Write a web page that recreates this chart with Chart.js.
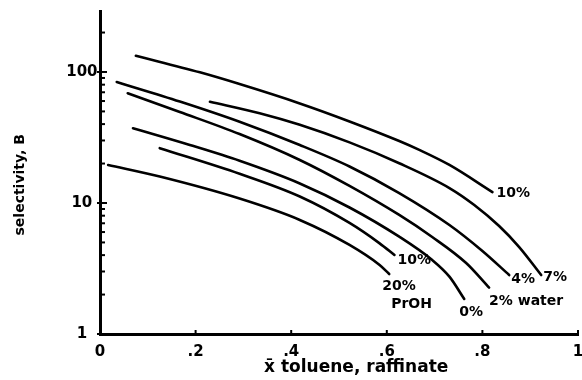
<!DOCTYPE html>
<html>
<head>
<meta charset="utf-8">
<script src="https://cdn.jsdelivr.net/npm/chart.js@4.4.1/dist/chart.umd.min.js"></script>
<style>
html,body{margin:0;padding:0;background:#fff;}
#wrap{width:582px;height:380px;}
</style>
</head>
<body>
<div id="wrap"><canvas id="c" width="582" height="380"></canvas></div>
<script>
// ---- data ----
const seriesNames = ['10% water', '7% water', '4% water', '2% water', '0%', '10% PrOH', '20% PrOH'];
const curveLabels = [['10%'], ['7%'], ['4%'], ['2% water'], ['0%'], ['10%'], ['20%', 'PrOH']];

const water10X = [0.075, 0.209, 0.292, 0.418, 0.522, 0.626, 0.668, 0.731, 0.821];
const water10Y = [133, 99.3, 80.8, 57.5, 41.9, 29.7, 25.4, 19.5, 12.1];

const water7X = [0.230, 0.334, 0.418, 0.522, 0.626, 0.731, 0.783, 0.835, 0.877, 0.923];
const water7Y = [59.3, 48.4, 39.5, 29.0, 20.1, 13.0, 9.65, 6.67, 4.61, 2.82];

const water4X = [0.035, 0.167, 0.292, 0.418, 0.522, 0.626, 0.731, 0.800, 0.856];
const water4Y = [83.9, 59.5, 41.7, 27.7, 19.0, 11.9, 6.79, 4.30, 2.82];

const water2X = [0.058, 0.167, 0.292, 0.418, 0.522, 0.626, 0.695, 0.766, 0.814];
const water2Y = [68.8, 49.5, 33.6, 21.3, 13.5, 8.10, 5.50, 3.48, 2.26];

const zeroX = [0.069, 0.188, 0.292, 0.418, 0.522, 0.626, 0.695, 0.731, 0.762];
const zeroY = [37.2, 27.7, 21.0, 14.1, 9.24, 5.53, 3.67, 2.74, 1.85];

const proh10X = [0.125, 0.292, 0.418, 0.522, 0.585, 0.616];
const proh10Y = [26.2, 16.7, 11.2, 7.04, 4.92, 4.01];

const proh20X = [0.017, 0.125, 0.292, 0.418, 0.522, 0.585, 0.605];
const proh20Y = [19.5, 15.9, 10.8, 7.42, 4.78, 3.36, 2.87];

const xTickValues = [0, 0.2, 0.4, 0.6, 0.8, 1];
const xTickLabels = ['0', '.2', '.4', '.6', '.8', '1'];
const yTickValues = [1, 10, 100];
const yTickLabels = ['1', '10', '100'];
const yMinorTicks = [2, 3, 4, 5, 6, 7, 8, 9, 20, 30, 40, 50, 60, 70, 80, 90, 200];
const xAxisTitle = 'x\u0304 toluene, raffinate';
const yAxisTitle = 'selectivity, B';

const seriesX = [water10X, water7X, water4X, water2X, zeroX, proh10X, proh20X];
const seriesY = [water10Y, water7Y, water4Y, water2Y, zeroY, proh10Y, proh20Y];

// ---- presentation ----
const labelOffsets = [[[4, 1]], [[2, 2]], [[2, 4]], [[0, 14]], [[-5, 13]], [[3, 5]], [[-7, 12], [2, 30]]];
const FONT = '"DejaVu Sans", "Liberation Sans", Arial, sans-serif';

const datasets = seriesNames.map((name, i) => ({
  label: name,
  data: seriesX[i].map((x, k) => ({x: x, y: seriesY[i][k]})),
  borderColor: '#000',
  backgroundColor: '#000',
  borderWidth: 2.6,
  pointRadius: 0,
  fill: false,
  cubicInterpolationMode: 'monotone',
  borderCapStyle: 'round'
}));

const overlay = {
  id: 'overlay',
  afterDraw(chart) {
    const ctx = chart.ctx;
    const xs = chart.scales.x, ys = chart.scales.y;
    const area = chart.chartArea;
    ctx.save();
    ctx.strokeStyle = '#000';
    ctx.fillStyle = '#000';
    // y tick marks (inward)
    ctx.lineWidth = 2;
    yMinorTicks.forEach(v => {
      const py = ys.getPixelForValue(v);
      ctx.beginPath(); ctx.moveTo(area.left, py); ctx.lineTo(area.left + 5, py); ctx.stroke();
    });
    yTickValues.forEach(v => {
      const py = ys.getPixelForValue(v);
      ctx.beginPath(); ctx.moveTo(area.left - 3, py); ctx.lineTo(area.left + 7, py); ctx.stroke();
    });
    // x tick marks (inward)
    xTickValues.forEach(v => {
      const px = xs.getPixelForValue(v);
      ctx.beginPath(); ctx.moveTo(px, area.bottom); ctx.lineTo(px, area.bottom - 4); ctx.stroke();
    });
    // curve labels
    ctx.font = 'bold 14px ' + FONT;
    ctx.textAlign = 'left';
    ctx.textBaseline = 'middle';
    chart.data.datasets.forEach((ds, i) => {
      const meta = chart.getDatasetMeta(i);
      const last = meta.data[meta.data.length - 1];
      curveLabels[i].forEach((t, j) => {
        const off = labelOffsets[i][j];
        ctx.fillText(t, last.x + off[0], last.y + off[1]);
      });
    });
    // axis titles
    ctx.textAlign = 'center';
    ctx.font = 'bold 17px ' + FONT;
    ctx.fillText(xAxisTitle, area.left + 0.536 * (area.right - area.left), area.bottom + 34);
    ctx.translate(20, area.top + 0.538 * (area.bottom - area.top));
    ctx.rotate(-Math.PI / 2);
    ctx.font = 'bold 14px ' + FONT;
    ctx.fillText(yAxisTitle, 0, 0);
    ctx.restore();
  }
};

new Chart(document.getElementById('c'), {
  type: 'line',
  data: { datasets: datasets },
  options: {
    responsive: false,
    animation: false,
    devicePixelRatio: 1,
    layout: { padding: { top: 11, right: 4, left: 0, bottom: 0 } },
    plugins: { legend: { display: false }, tooltip: { enabled: false } },
    scales: {
      x: {
        type: 'linear',
        min: 0, max: 1,
        afterFit: s => { s.height = 46; s.paddingLeft = 0; s.paddingRight = 0; },
        afterBuildTicks: s => { s.ticks = xTickValues.map(v => ({value: v})); },
        grid: { display: false, drawTicks: false },
        border: { display: true, color: '#000', width: 3 },
        ticks: {
          color: '#000',
          padding: 9,
          maxRotation: 0,
          font: { family: FONT, size: 15, weight: 'bold' },
          callback: (v) => { const k = xTickValues.indexOf(v); return k >= 0 ? xTickLabels[k] : ''; }
        }
      },
      y: {
        type: 'logarithmic',
        min: 1, max: 292,
        afterFit: s => { s.width = 100; s.paddingTop = 0; s.paddingBottom = 0; },
        afterBuildTicks: s => { s.ticks = yTickValues.map(v => ({value: v})); },
        grid: { display: false, drawTicks: false },
        border: { display: true, color: '#000', width: 3 },
        ticks: {
          color: '#000',
          padding: 2.5,
          crossAlign: 'center',
          font: { family: FONT, size: 15, weight: 'bold' },
          callback: (v) => { const k = yTickValues.indexOf(v); return k >= 0 ? yTickLabels[k] : ''; }
        }
      }
    }
  },
  plugins: [overlay]
});
</script>
</body>
</html>
